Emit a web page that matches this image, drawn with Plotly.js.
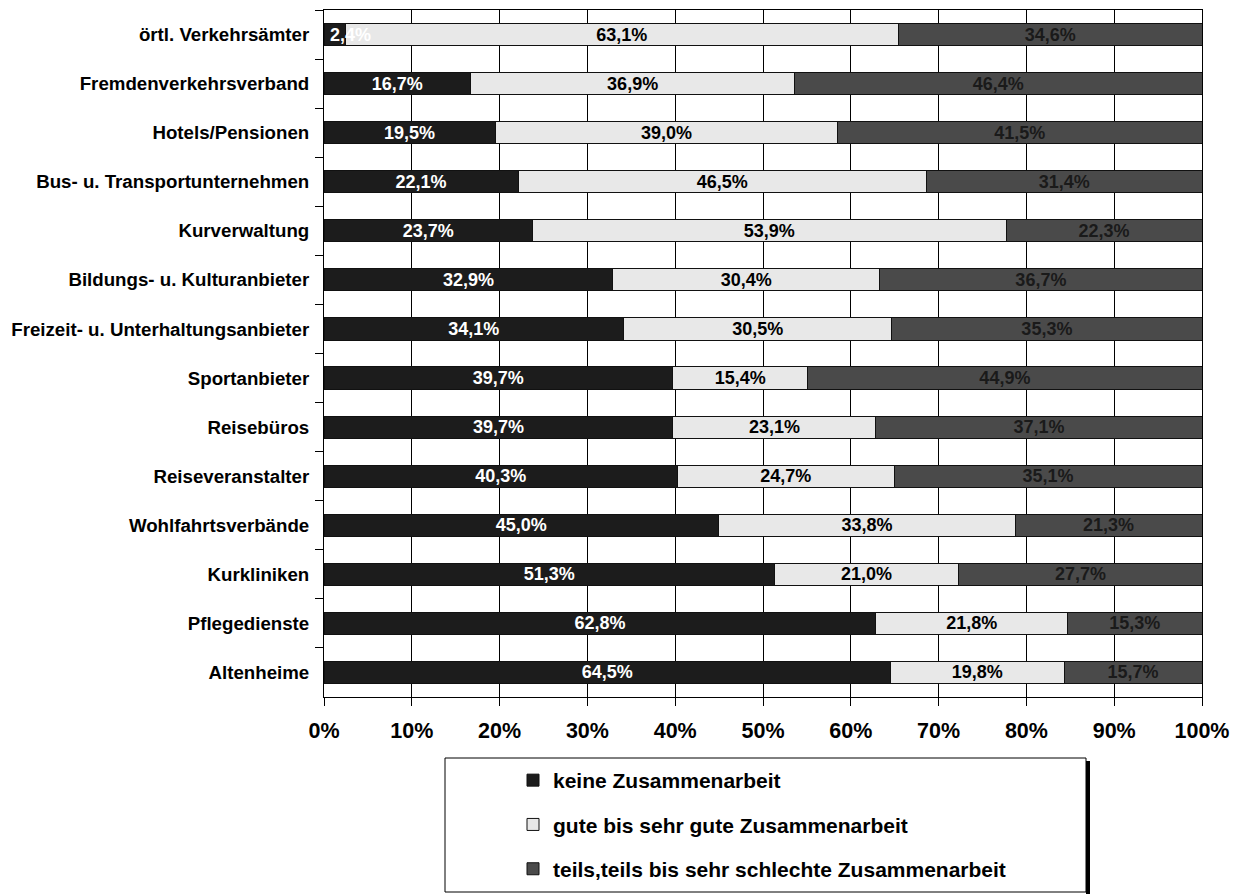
<!DOCTYPE html>
<html>
<head>
<meta charset="utf-8">
<script src="https://cdn.plot.ly/plotly-3.0.1.min.js"></script>
<style>
  html, body { margin: 0; padding: 0; background: #ffffff; }
  #chart { width: 1247px; height: 894px; }
</style>
</head>
<body>
<div id="chart"></div>
<script>
// Kooperationspartner, von oben nach unten
const categories = [
  'örtl. Verkehrsämter',
  'Fremdenverkehrsverband',
  'Hotels/Pensionen',
  'Bus- u. Transportunternehmen',
  'Kurverwaltung',
  'Bildungs- u. Kulturanbieter',
  'Freizeit- u. Unterhaltungsanbieter',
  'Sportanbieter',
  'Reisebüros',
  'Reiseveranstalter',
  'Wohlfahrtsverbände',
  'Kurkliniken',
  'Pflegedienste',
  'Altenheime'
];

// Anteile in Prozent je Bewertung
const keineZusammenarbeit = [2.4, 16.7, 19.5, 22.1, 23.7, 32.9, 34.1, 39.7, 39.7, 40.3, 45.0, 51.3, 62.8, 64.5];
const guteZusammenarbeit = [63.1, 36.9, 39.0, 46.5, 53.9, 30.4, 30.5, 15.4, 23.1, 24.7, 33.8, 21.0, 21.8, 19.8];
const schlechteZusammenarbeit = [34.6, 46.4, 41.5, 31.4, 22.3, 36.7, 35.3, 44.9, 37.1, 35.1, 21.3, 27.7, 15.3, 15.7];

const seriesNames = [
  'keine Zusammenarbeit',
  'gute bis sehr gute Zusammenarbeit',
  'teils,teils bis sehr schlechte Zusammenarbeit'
];

const xTickValues = [0, 10, 20, 30, 40, 50, 60, 70, 80, 90, 100];
const xTickLabels = ['0%', '10%', '20%', '30%', '40%', '50%', '60%', '70%', '80%', '90%', '100%'];

const FONT = '"Liberation Sans", Arial, sans-serif';
const LABEL_SIZE = 18;
// segments narrower than this (in %) get their label as an overlay starting at the segment's left edge
const MIN_INSIDE = 5;

const series = [
  { values: keineZusammenarbeit, name: seriesNames[0], fill: '#1c1c1c', text: '#ffffff', group: 'g1' },
  { values: guteZusammenarbeit, name: seriesNames[1], fill: '#e8e8e8', text: '#000000', group: 'g2' },
  { values: schlechteZusammenarbeit, name: seriesNames[2], fill: '#4a4a4a', text: '#1a1a1a', group: 'g3' }
];

const fmt = v => v.toFixed(1).replace('.', ',') + '%';

const data = series.map(s => ({
  type: 'bar',
  orientation: 'h',
  y: categories,
  x: s.values,
  customdata: s.values,
  name: s.name,
  legendgroup: s.group,
  marker: { color: s.fill, line: { color: '#111111', width: 1 } },
  texttemplate: '%{customdata:.1f}%',
  textposition: s.values.map(v => (v < MIN_INSIDE ? 'none' : 'inside')),
  insidetextanchor: 'middle',
  constraintext: 'none',
  textangle: 0,
  insidetextfont: { family: FONT, size: LABEL_SIZE, color: s.text, weight: 700 },
  hoverinfo: 'skip'
}));

// overlay labels for very narrow segments (drawn above the neighbouring bars)
const annotations = [];
categories.forEach((cat, i) => {
  const total = series.reduce((a, s) => a + s.values[i], 0);
  let base = 0;
  series.forEach(s => {
    const v = s.values[i];
    if (v < MIN_INSIDE) {
      annotations.push({
        x: base, y: cat, xref: 'x', yref: 'y',
        xanchor: 'left', yanchor: 'middle', xshift: 4,
        text: fmt(v), showarrow: false,
        font: { family: FONT, size: LABEL_SIZE, color: s.text, weight: 700 }
      });
    }
    base += v / total * 100;
  });
});

// figure 1247 x 894, plot area in pixels: left 324, right 1202, top 10, bottom 697
const W = 1247, H = 894;
const L = 324, R = 1202, T = 10, B = 697;
const fx = v => v / W;
const fy = v => 1 - v / H;

const layout = {
  width: W,
  height: H,
  margin: { l: 0, r: 0, t: 0, b: 0, pad: 0 },
  paper_bgcolor: '#ffffff',
  plot_bgcolor: '#ffffff',
  separators: ',.',
  barmode: 'stack',
  barnorm: 'percent',
  bargap: 0.55,
  showlegend: true,
  font: { family: FONT, size: 18, color: '#000000', weight: 700 },
  xaxis: {
    domain: [fx(L), fx(R)],
    range: [0, 100],
    tickmode: 'array',
    tickvals: xTickValues,
    ticktext: xTickLabels,
    ticks: 'outside',
    ticklen: 8,
    tickwidth: 1,
    tickcolor: '#000000',
    ticklabelstandoff: 6,
    showgrid: true,
    gridcolor: '#000000',
    gridwidth: 1,
    showline: true,
    linecolor: '#000000',
    linewidth: 1,
    mirror: true,
    zeroline: false,
    automargin: false,
    tickfont: { family: FONT, size: 21.5, color: '#000000', weight: 700 },
    fixedrange: true
  },
  yaxis: {
    domain: [fy(B), fy(T)],
    type: 'category',
    autorange: 'reversed',
    tickson: 'boundaries',
    ticks: 'outside',
    ticklen: 8,
    tickwidth: 1,
    tickcolor: '#000000',
    showgrid: false,
    showline: true,
    linecolor: '#000000',
    linewidth: 1,
    mirror: true,
    automargin: false,
    ticklabelstandoff: 10,
    tickfont: { family: FONT, size: 18.7, color: '#000000', weight: 700 },
    fixedrange: true
  },
  legend: {
    x: fx(513),
    y: fy(760),
    xanchor: 'left',
    yanchor: 'top',
    orientation: 'v',
    traceorder: 'grouped',
    tracegroupgap: 14,
    bgcolor: 'rgba(0,0,0,0)',
    borderwidth: 0,
    font: { family: FONT, size: 21, color: '#000000', weight: 700 }
  },
  annotations: annotations,
  shapes: [
    // legend frame
    {
      type: 'rect', xref: 'paper', yref: 'paper',
      x0: fx(445), x1: fx(1086), y0: fy(892), y1: fy(758),
      line: { color: '#000000', width: 1 },
      fillcolor: 'rgba(0,0,0,0)', layer: 'below'
    },
    // frame shadow on the right
    {
      type: 'rect', xref: 'paper', yref: 'paper',
      x0: fx(1086), x1: fx(1090), y0: fy(894), y1: fy(761),
      line: { width: 0 },
      fillcolor: '#000000', layer: 'above'
    }
  ]
};

Plotly.newPlot('chart', data, layout, { displayModeBar: false, staticPlot: true });
</script>
</body>
</html>
